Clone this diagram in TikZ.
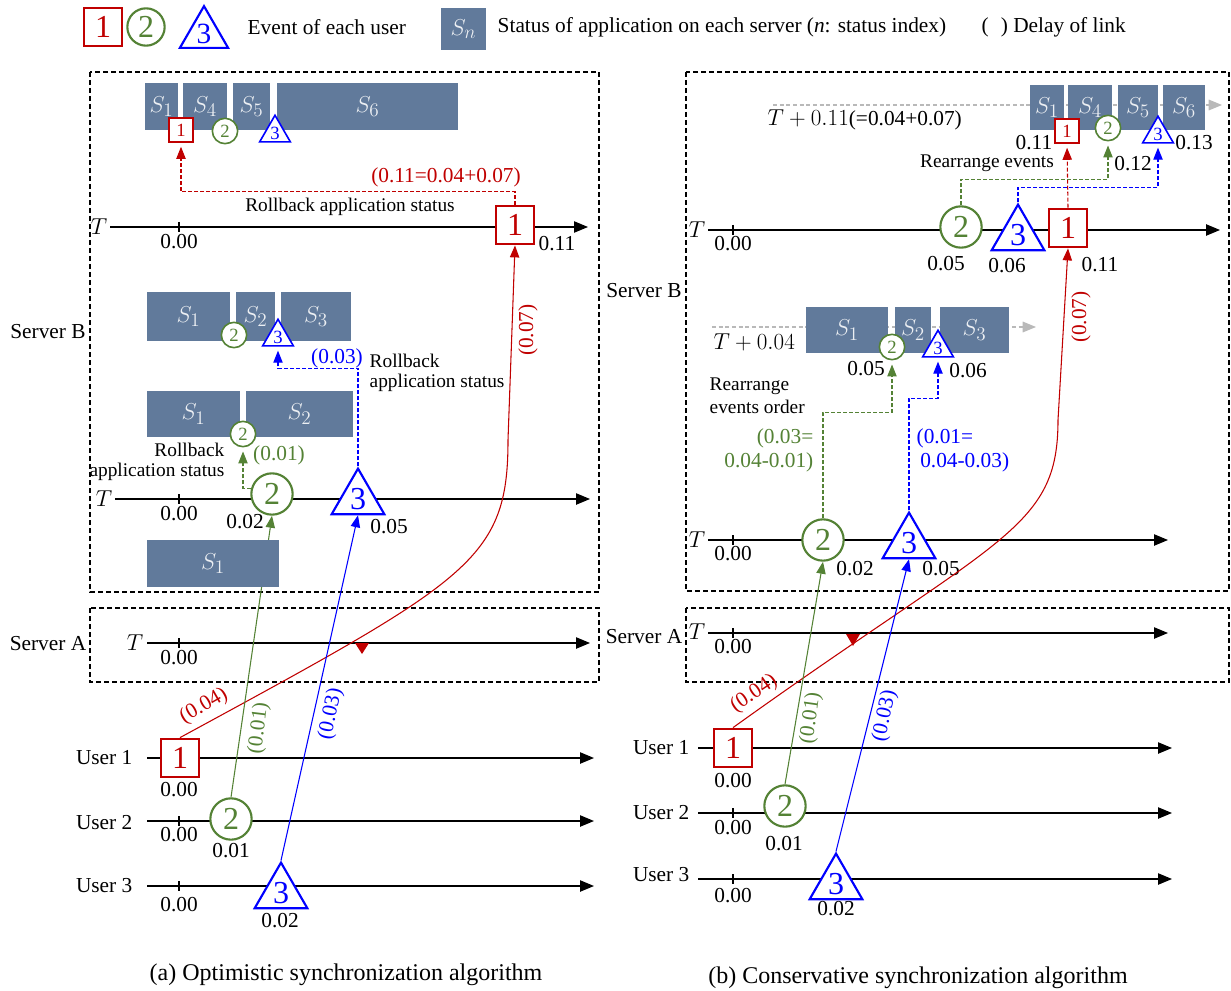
\documentclass[tikz,border=0pt]{standalone}
\usepackage{fontspec}
\setmainfont{Liberation Serif}
\usetikzlibrary{arrows.meta,shapes.geometric,positioning}
\definecolor{evred}{RGB}{192,0,0}
\definecolor{evgreen}{RGB}{84,130,53}
\definecolor{evblue}{RGB}{0,0,255}
\definecolor{stfill}{RGB}{97,122,155}
\definecolor{stlabel}{RGB}{236,239,243}

\begin{document}
\begin{tikzpicture}[x=0.75pt,y=0.75pt,yscale=-1,
  font=\fontsize{16}{18}\selectfont,
  frame/.style={dash pattern=on 3.5pt off 2.5pt, line width=0.8pt},
  taxis/.style={line width=1pt, -{Triangle[length=10.5pt,width=8.5pt]}},
  tick/.style={line width=1.2pt},
  status/.style={fill=stfill},
  stxt/.style={text=stlabel, font=\fontsize{19}{19}\selectfont},
  evsq/.style={draw=evred, text=evred, fill=white, line width=1.6pt, minimum size=29pt, inner sep=0pt, font=\fontsize{24}{24}\selectfont},
  evsqs/.style={evsq, line width=1.2pt, minimum size=18pt, font=\fontsize{14}{14}\selectfont},
  evci/.style={circle, draw=evgreen, text=evgreen, fill=white, line width=1.6pt, minimum size=31pt, inner sep=0pt, font=\fontsize{24}{24}\selectfont},
  evcis/.style={evci, line width=1.2pt, minimum size=19pt, font=\fontsize{14}{14}\selectfont},
  evtr/.style={regular polygon, regular polygon sides=3, draw=evblue, text=evblue, fill=white, line width=1.6pt, minimum size=40pt, inner sep=0pt, font=\fontsize{24}{24}\selectfont},
  evtrs/.style={evtr, line width=1.2pt, minimum size=26pt, font=\fontsize{14}{14}\selectfont},
  link/.style={line width=0.8pt, -{Triangle[length=9pt,width=7pt]}},
  back/.style={link, dash pattern=on 3pt off 1.5pt, shorten >=3pt},
  ghost/.style={gray!55, line width=0.9pt, dash pattern=on 3pt off 2pt, -{Triangle[length=10pt,width=8pt]}},
  note/.style={font=\fontsize{14.5}{15.5}\selectfont}
]
\useasboundingbox (0,0) rectangle (1231,991);

% Legend
\node[evsq, minimum size=28pt] (lg1) at (103,27) {1};
\node[evci, minimum size=28pt] (lg2) at (146,27) {2};
\node[evtr, minimum size=36pt, font=\fontsize{22}{22}\selectfont] (lg3) at (204,34) {3};
\node[anchor=west] (lgev) at (243,27) {Event of each user};
\fill[status] (441,8) rectangle node[stxt] (lgst) {$S_n$} (486,50);
\node[anchor=west] (lgsn) at (493,27) {Status of application on each server (\textit{n}: status index)};
\node[anchor=west] (lgdl) at (977,27) {(\hspace{9pt}) Delay of link};

%%%% (a) Optimistic
\draw[frame] (90,72) rectangle (599,592);
\draw[frame] (90,608) rectangle (599,682);
\node (aSB) at (48,332) {Server B};
\node (aSA) at (48,644) {Server A};

% time axes
\draw[taxis] (110,227) -- (588,227);
\draw[tick] (179,222) -- (179,232);
\node (aTa) at (99,227) {$T$};
\node (aTaz) at (179,242) {0.00};
\draw[taxis] (115,499) -- (590,499);
\draw[tick] (179,494) -- (179,504);
\node (aTb) at (104,499) {$T$};
\node (aTbz) at (179,514) {0.00};
\draw[taxis] (147,643) -- (590,643);
\draw[tick] (179,638) -- (179,648);
\node (aTs) at (135,643) {$T$};
\node (aTsz) at (179,658) {0.00};
\draw[taxis] (147,758) -- (594,758);
\draw[taxis] (147,821) -- (594,821);
\draw[tick] (179,816) -- (179,826);
\draw[taxis] (147,886) -- (594,886);
\draw[tick] (179,881) -- (179,891);
\node[anchor=east] (aL1) at (137,758) {User 1};
\node[anchor=east] (aL2) at (137,823) {User 2};
\node[anchor=east] (aL3) at (137,886) {User 3};

% events
\node[evsq] (aE1) at (515,225) {1};
\node (aE1t) at (557,244) {0.11};
\node[evci] (aE2) at (272,494) {2};
\node (aE2t) at (245,522) {0.02};
\node[evtr] (aE3) at (358,499) {3};
\node (aE3t) at (389,527) {0.05};
\node[evsq] (aU1) at (180,758) {1};
\node (aU1t) at (179,790) {0.00};
\node (aU2z) at (179,835) {0.00};
\node[evci] (aU2) at (231,819) {2};
\node (aU2t) at (231,851) {0.01};
\node (aU3z) at (179,905) {0.00};
\node[evtr] (aU3) at (281,893) {3};
\node (aU3t) at (280,921) {0.02};

% links
\draw[link,evred] (aU1.north) .. controls (470,580) and (508,560) .. (508,440) -- (aE1.south);
\draw[link,evgreen] (aU2.north) -- (aE2.south);
\draw[link,evblue] (aU3.corner 1) -- (aE3.south);
\fill[evred] (355,643) -- (369,643) -- (362,654) -- cycle;
\node[evred, rotate=30] (aD1) at (204,706) {(0.04)};
\node[evgreen, rotate=83] (aD2) at (259,728) {(0.01)};
\node[evblue, rotate=78] (aD3) at (331,714) {(0.03)};
\node[evred, rotate=90] (aD4) at (528,330) {(0.07)};

% application status
\fill[status] (145,83) rectangle node[stxt] (aq1) {$S_1$} (178,130);
\fill[status] (183,83) rectangle node[stxt] (aq4) {$S_4$} (227,130);
\fill[status] (233,83) rectangle node[stxt] (aq5) {$S_5$} (270,130);
\fill[status] (277,83) rectangle node[stxt] (aq6) {$S_6$} (458,130);
\fill[status] (147,292) rectangle node[stxt] (ap1) {$S_1$} (230,341);
\fill[status] (236,292) rectangle node[stxt] (ap2) {$S_2$} (275,341);
\fill[status] (281,292) rectangle node[stxt] (ap3) {$S_3$} (351,341);
\fill[status] (147,391) rectangle node[stxt] (ao1) {$S_1$} (240,437);
\fill[status] (246,391) rectangle node[stxt] (ao2) {$S_2$} (353,437);
\fill[status] (147,540) rectangle node[stxt] (an1) {$S_1$} (279,587);

\node[evsqs] (aq1e) at (181,130) {1};
\node[evcis] (aq2e) at (225,131) {2};
\node[evtrs] (aq3e) at (275,133) {3};
\node[evcis] (ap2e) at (234,335) {2};
\node[evtrs] (ap3e) at (278,337) {3};
\node[evcis] (ao2e) at (243,434) {2};

% rollback
\draw[back,evred] (aE1.north) -- ++(0,-13) -| (aq1e.south);
\node[evred] (aR1) at (446,177) {(0.11=0.04+0.07)};
\node[note] (aR1t) at (350,207) {Rollback application status};
\draw[back,evblue] (aE3.corner 1) -- ++(0,-98) -| (ap3e.south);
\node[evblue] (aR3) at (337,358) {(0.03)};
\node[note, anchor=west, align=left] (aR3t) at (365,373) {Rollback\\application status};
\draw[back,evgreen] (aE2.165) -| (ao2e.south);
\node[evgreen] (aR2) at (279,455) {(0.01)};
\node[note, anchor=east, align=right] (aR2t) at (229,462) {Rollback\\application status};

\node[font=\fontsize{18}{20}\selectfont] (acap) at (346,975) {(a) Optimistic synchronization algorithm};

%%%% (b) Conservative
\draw[frame] (686,72) rectangle (1229,591);
\draw[frame] (686,608) rectangle (1229,682);
\node (bSB) at (644,291) {Server B};
\node (bSA) at (644,637) {Server A};

% time axes
\draw[ghost] (773,105) -- (1222,105);
\draw[ghost] (712,327) -- (1036,327);
\draw[taxis] (708,230) -- (1220,230);
\draw[tick] (733,225) -- (733,235);
\node (bTa) at (697,230) {$T$};
\node (bTaz) at (733,244) {0.00};
\draw[taxis] (708,540) -- (1168,540);
\draw[tick] (733,535) -- (733,545);
\node (bTb) at (697,540) {$T$};
\node (bTbz) at (733,554) {0.00};
\draw[taxis] (708,633) -- (1168,633);
\draw[tick] (733,628) -- (733,638);
\node (bTs) at (697,632) {$T$};
\node (bTsz) at (733,647) {0.00};
\draw[taxis] (698,748) -- (1172,748);
\draw[taxis] (698,813) -- (1172,813);
\draw[tick] (733,808) -- (733,818);
\draw[taxis] (698,879) -- (1172,879);
\draw[tick] (733,874) -- (733,884);
\node[anchor=east] (bL1) at (694,748) {User 1};
\node[anchor=east] (bL2) at (694,813) {User 2};
\node[anchor=east] (bL3) at (694,875) {User 3};

% events
\node[evci] (bE2) at (961,227) {2};
\node (bE2t) at (946,264) {0.05};
\node[evtr] (bE3) at (1018,235) {3};
\node (bE3t) at (1007,266) {0.06};
\node[evsq] (bE1) at (1068,228) {1};
\node (bE1t) at (1100,265) {0.11};
\node[evci] (bM2) at (823,540) {2};
\node (bM2t) at (855,569) {0.02};
\node[evtr] (bM3) at (909,543) {3};
\node (bM3t) at (941,569) {0.05};
\node[evsq] (bU1) at (733,748) {1};
\node (bU1t) at (733,781) {0.00};
\node (bU2z) at (733,828) {0.00};
\node[evci] (bU2) at (785,806) {2};
\node (bU2t) at (784,844) {0.01};
\node (bU3z) at (733,896) {0.00};
\node[evtr] (bU3) at (836,884) {3};
\node (bU3t) at (836,909) {0.02};

% links
\draw[link,evred] (bU1.north) .. controls (1000,536) and (1058,530) .. (1058,420) -- (bE1.south);
\draw[link,evgreen] (bU2.north) -- (bM2.south);
\draw[link,evblue] (bU3.corner 1) -- (bM3.south);
\fill[evred] (846,634) -- (860,634) -- (853,646) -- cycle;
\node[evred, rotate=34] (bD1) at (754,694) {(0.04)};
\node[evgreen, rotate=82] (bD2) at (811,718) {(0.01)};
\node[evblue, rotate=78] (bD3) at (885,716) {(0.03)};
\node[evred, rotate=90] (bD4) at (1081,317) {(0.07)};

% application status
\fill[status] (1030,85) rectangle node[stxt] (bq1) {$S_1$} (1064,130);
\fill[status] (1068,85) rectangle node[stxt] (bq4) {$S_4$} (1112,130);
\fill[status] (1118,85) rectangle node[stxt] (bq5) {$S_5$} (1158,130);
\fill[status] (1163,85) rectangle node[stxt] (bq6) {$S_6$} (1205,130);
\node[anchor=west] (bTq) at (763,120) {$T+0.11$(=0.04+0.07)};
\fill[status] (806,307) rectangle node[stxt] (bp1) {$S_1$} (888,353);
\fill[status] (895,307) rectangle node[stxt] (bp2) {$S_2$} (931,353);
\fill[status] (940,307) rectangle node[stxt] (bp3) {$S_3$} (1009,353);
\node[anchor=west] (bTp) at (709,342) {$T+0.04$};

\node[evsqs] (bq1e) at (1067,131) {1};
\node (bq1t) at (1034,143) {0.11};
\node[evcis] (bq2e) at (1108,128) {2};
\node (bq2t) at (1133,164) {0.12};
\node[evtrs] (bq3e) at (1158,134) {3};
\node (bq3t) at (1194,143) {0.13};
\node[evcis] (bp2e) at (892,347) {2};
\node (bp2t) at (866,369) {0.05};
\node[evtrs] (bp3e) at (938,348) {3};
\node (bp3t) at (968,371) {0.06};

% rearrange
\draw[back,evred] (bE1.north) -- (bq1e.south);
\draw[back,evgreen] (bE2.north) -- ++(0,-26) -| (bq2e.south);
\draw[back,evblue] (bE3.corner 1) -- ++(0,-15) -| (bq3e.south);
\node[note] (bR1) at (987,163) {Rearrange events};
\draw[back,evgreen] (bM2.north) -- ++(0,-106) -| (bp2e.south);
\draw[back,evblue] (bM3.corner 1) -- ++(0,-112) -| (bp3e.south);
\node[note, anchor=west, align=left, font=\fontsize{14.5}{17}\selectfont] (bR2) at (705,396) {Rearrange\\events order};
\node[evgreen, anchor=east, align=right] (bR3) at (818,450) {(0.03=\\0.04-0.01)};
\node[evblue, anchor=west, align=left] (bR4) at (912,450) {(0.01=\\\,0.04-0.03)};

\node[font=\fontsize{18}{20}\selectfont] (bcap) at (918,978) {(b) Conservative synchronization algorithm};
\end{tikzpicture}
\end{document}
